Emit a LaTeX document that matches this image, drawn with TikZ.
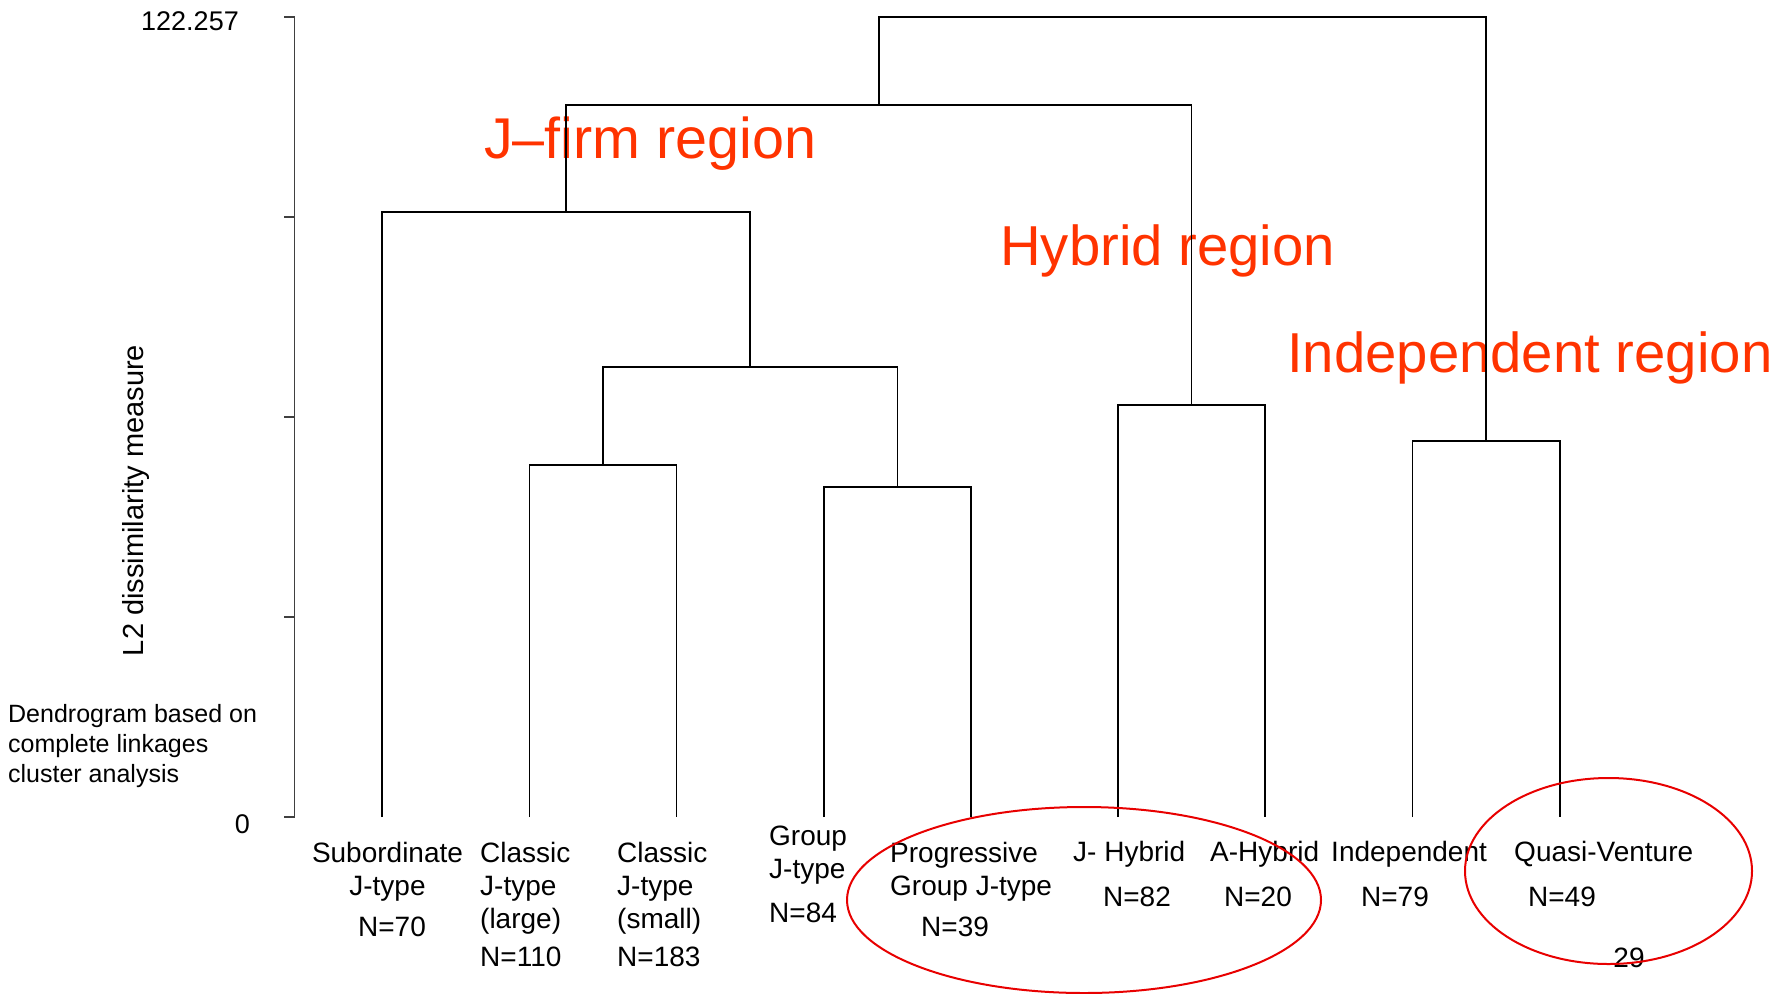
\documentclass[tikz,border=0pt]{standalone}
\usepackage{fontspec}
\setmainfont{Liberation Sans}
\usepackage{tikz}
\definecolor{rojo}{RGB}{232,0,0}
\definecolor{naranja}{RGB}{255,51,0}

\begin{document}
\begin{tikzpicture}[x=1pt,y=-1pt,
  rama/.style={line width=1.3pt},
  etiq/.style={font=\fontsize{28}{33}\selectfont, inner sep=0pt},
  region/.style={naranja, font=\fontsize{56.3}{60}\selectfont, inner sep=0pt, anchor=base west},
  ovalo/.style={rojo, line width=2pt}]
  \useasboundingbox (0,0) rectangle (1776,993);

  % Regiones
  \node[region, font=\fontsize{57.5}{62}\selectfont] (jfirm) at (484,158) {J–firm region};
  \node[region] (hyb)   at (1000,265) {Hybrid region};
  \node[region] (indep) at (1287,372) {Independent region};

  % Eje
  \draw[line width=1.2pt, black!75] (294.5,17) -- (294.5,817);
  \foreach \y in {17,217,417,617,817}
    \draw[line width=1.2pt, black!75] (294.5,\y) -- (284,\y);
  \node[etiq, font=\fontsize{27}{32}\selectfont, anchor=base east] (ymax) at (239,30) {122.257};
  \node[etiq, font=\fontsize{27}{32}\selectfont, anchor=base east] (ymin) at (250,833) {0};
  \node[etiq, font=\fontsize{29}{34}\selectfont, anchor=base, rotate=90] (ylab) at (143,500.5)
    {L2 dissimilarity measure};
  \node[etiq, font=\fontsize{25}{30}\selectfont, align=left, anchor=north west] (nota) at (8,704)
    {Dendrogram based on\\complete linkages\\cluster analysis};

  % Hojas
  \coordinate (sub) at (382,817);
  \coordinate (cll) at (529.3,817);
  \coordinate (cls) at (676.8,817);
  \coordinate (grp) at (824,817);
  \coordinate (prg) at (971,817);
  \coordinate (jhy) at (1118,817);
  \coordinate (ahy) at (1265,817);
  \coordinate (ind) at (1412.3,817);
  \coordinate (qv)  at (1560,817);

  % Uniones
  \coordinate (c1) at (603,465);
  \coordinate (c2) at (897.5,487);
  \coordinate (c3) at (750,367);
  \coordinate (c4) at (566,212);
  \coordinate (c5) at (1191.5,405);
  \coordinate (c6) at (879,105);
  \coordinate (c7) at (1486,441);
  \coordinate (c8) at (1182.5,17);

  \foreach \a/\p/\b in {cll/c1/cls, grp/c2/prg, c1/c3/c2, sub/c4/c3,
                        jhy/c5/ahy, c4/c6/c5, ind/c7/qv, c6/c8/c7}
    \draw[rama] (\a) |- (\p) -| (\b);

  % Nombres de los grupos
  \node[etiq, align=center, anchor=north] (tsub) at (387.5,841.5) {Subordinate\\J-type};
  \node[etiq, align=left, anchor=north west] (tcll) at (480,841.5) {Classic\\J-type\\(large)};
  \node[etiq, align=left, anchor=north west] (tcls) at (617,841.5) {Classic\\J-type\\(small)};
  \node[etiq, align=left, anchor=north west] (tgrp) at (769,825.5) {Group\\J-type};
  \node[etiq, align=left, anchor=north west] (tprg) at (890,841.5) {Progressive\\Group J-type};
  \node[etiq, anchor=base west] (tjhy) at (1073,861.5) {J- Hybrid};
  \node[etiq, anchor=base west] (tahy) at (1210,861.5) {A-Hybrid};
  \node[etiq, anchor=base west] (tind) at (1331,861.5) {Independent};
  \node[etiq, anchor=base west] (tqv)  at (1514,861.5) {Quasi-Venture};

  % Tamanos
  \node[etiq, anchor=base] (nsub) at (392,936.5) {N=70};
  \node[etiq, anchor=base west] (ncll) at (480,966.5) {N=110};
  \node[etiq, anchor=base west] (ncls) at (617,966.5) {N=183};
  \node[etiq, anchor=base west] (ngrp) at (769,922.5) {N=84};
  \node[etiq, anchor=base west] (nprg) at (921,936.5) {N=39};
  \node[etiq, anchor=base] (njhy) at (1137,906.5) {N=82};
  \node[etiq, anchor=base] (nahy) at (1258,906.5) {N=20};
  \node[etiq, anchor=base] (nind) at (1395,906.5) {N=79};
  \node[etiq, anchor=base] (nqv)  at (1562,906.5) {N=49};
  \node[etiq, anchor=base] (pag)  at (1629,967) {29};

  % Ovalos
  \draw[ovalo] (1084,900) ellipse [x radius=237, y radius=93];
  \draw[ovalo] (1608.5,871) ellipse [x radius=143.5, y radius=93];
\end{tikzpicture}
\end{document}
